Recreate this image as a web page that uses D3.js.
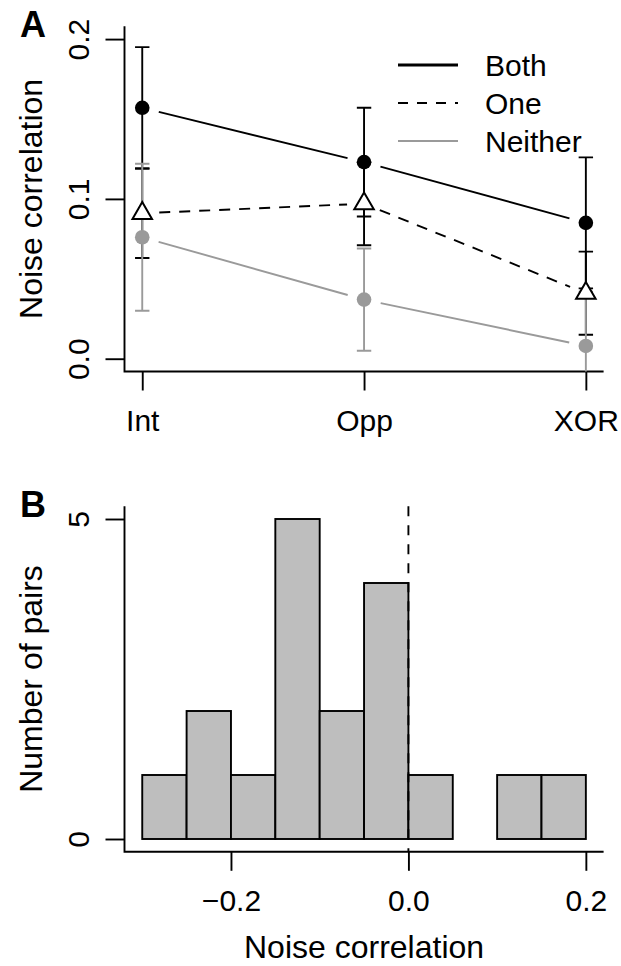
<!DOCTYPE html>
<html>
<head>
<meta charset="utf-8">
<script src="https://cdn.jsdelivr.net/npm/d3@7"></script>
<style>
  html, body { margin: 0; padding: 0; background: #fff; }
  svg { display: block; }
  text { font-family: "Liberation Sans", Arial, Helvetica, sans-serif; fill: #000; }
</style>
</head>
<body>
<svg id="fig" width="621" height="966"></svg>
<script>
// ---- Panel A: mean noise correlation by task, split by pair type ----
const conditions = ["Int", "Opp", "XOR"];
const bothMean    = [0.157, 0.123, 0.085];
const bothSE      = [0.038, 0.034, 0.041];
const oneMean     = [0.091, 0.097, 0.041];
const oneSE       = [0.028, 0.026, 0.026];
const neitherMean = [0.076, 0.037, 0.008];
const neitherSE   = [0.046, 0.032, 0.034];
const seriesNames = ["Both", "One", "Neither"];
const yTicksA = [0.0, 0.1, 0.2];

// ---- Panel B: histogram of noise correlations ----
const binEdges = [-0.30, -0.25, -0.20, -0.15, -0.10, -0.05, 0.00, 0.05, 0.10, 0.15, 0.20];
const binCounts = [1, 2, 1, 5, 2, 4, 1, 0, 1, 1];
const xTicksB = [-0.2, 0.0, 0.2];
const yTicksB = [0, 5];

const GREY = "#9a9a9a";
const FONT_TICK = 30;
const FONT_LAB = 32;
const FONT_LETTER = 36;

const svg = d3.select("#fig");

// shared horizontal extent of both plot regions
const plotLeft = 124.5, plotRight = 603.6;

// ================= Panel A =================
const aTop = 26.3, aBottom = 371.5;
const xA = d3.scaleLinear().domain([0.92, 3.08]).range([plotLeft, plotRight]);
const yA = d3.scaleLinear().domain([-0.008, 0.208]).range([aBottom, aTop]);
const xPos = i => xA(i + 1);

const gA = svg.append("g");

svg.append("defs").append("clipPath").attr("id", "clipA")
  .append("rect").attr("x", plotLeft).attr("y", aTop)
  .attr("width", plotRight - plotLeft).attr("height", aBottom - aTop);

// L-shaped frame
gA.append("path")
  .attr("d", `M${plotLeft},${aTop}V${aBottom}H${plotRight}`)
  .attr("fill", "none").attr("stroke", "#000").attr("stroke-width", 1.9);

// y axis
const axLA = gA.append("g").attr("transform", `translate(${plotLeft},0)`)
  .call(d3.axisLeft(yA).tickValues(yTicksA).tickSize(19).tickSizeOuter(0).tickFormat(d3.format(".1f")));
axLA.select(".domain").remove();
axLA.selectAll("line").attr("stroke", "#000").attr("stroke-width", 1.9);
axLA.selectAll("text")
  .attr("x", null).attr("dy", null)
  .attr("transform", "translate(-36,0) rotate(-90)")
  .attr("text-anchor", "middle")
  .style("font-size", FONT_TICK + "px");

// x axis
const axBA = gA.append("g").attr("transform", `translate(0,${aBottom})`)
  .call(d3.axisBottom(xA).tickValues([1, 2, 3]).tickSize(19).tickSizeOuter(0)
    .tickFormat((d, i) => conditions[i]));
axBA.select(".domain").remove();
axBA.selectAll("line").attr("stroke", "#000").attr("stroke-width", 1.9);
axBA.selectAll("text").attr("y", 59).attr("dy", null)
  .attr("text-anchor", "middle").style("font-size", FONT_TICK + "px");

// axis title
gA.append("text")
  .attr("transform", `translate(42,${(aTop + aBottom) / 2}) rotate(-90)`)
  .attr("text-anchor", "middle").style("font-size", FONT_LAB + "px")
  .text("Noise correlation");

// panel letter
gA.append("text").attr("x", 20).attr("y", 37)
  .style("font-size", FONT_LETTER + "px").style("font-weight", "bold").text("A");

const series = [
  { name: seriesNames[0], mean: bothMean, se: bothSE, color: "#000", dash: null, width: 1.9, shape: "circle" },
  { name: seriesNames[1], mean: oneMean, se: oneSE, color: "#000", dash: "11,9", width: 1.9, shape: "triangle" },
  { name: seriesNames[2], mean: neitherMean, se: neitherSE, color: GREY, dash: null, width: 1.9, shape: "circle" }
];

const inner = gA.append("g").attr("clip-path", "url(#clipA)");

// error bars
const capHalf = 7.2;
series.forEach(s => {
  const eb = inner.append("g").attr("stroke", s.color).attr("stroke-width", 1.9).attr("fill", "none");
  s.mean.forEach((m, i) => {
    const x = xPos(i), y1 = yA(m + s.se[i]), y0 = yA(m - s.se[i]);
    eb.append("line").attr("x1", x).attr("x2", x).attr("y1", y1).attr("y2", y0);
    eb.append("line").attr("x1", x - capHalf).attr("x2", x + capHalf).attr("y1", y1).attr("y2", y1);
    eb.append("line").attr("x1", x - capHalf).attr("x2", x + capHalf).attr("y1", y0).attr("y2", y0);
  });
});

// connecting lines with a gap around each point
const gap = 17;
series.forEach(s => {
  for (let i = 0; i < s.mean.length - 1; i++) {
    const x1 = xPos(i), y1 = yA(s.mean[i]);
    const x2 = xPos(i + 1), y2 = yA(s.mean[i + 1]);
    const len = Math.hypot(x2 - x1, y2 - y1);
    const ux = (x2 - x1) / len, uy = (y2 - y1) / len;
    const seg = inner.append("line")
      .attr("x1", x1 + ux * gap).attr("y1", y1 + uy * gap)
      .attr("x2", x2 - ux * gap).attr("y2", y2 - uy * gap)
      .attr("stroke", s.color).attr("stroke-width", s.width);
    if (s.dash) seg.attr("stroke-dasharray", s.dash);
  }
});

// points
const tri = d3.symbol().type(d3.symbolTriangle).size(165);
series.forEach(s => {
  s.mean.forEach((m, i) => {
    if (s.shape === "circle") {
      inner.append("circle").attr("cx", xPos(i)).attr("cy", yA(m)).attr("r", 7.3)
        .attr("fill", s.color);
    } else {
      inner.append("path").attr("d", tri)
        .attr("transform", `translate(${xPos(i)},${yA(m)})`)
        .attr("fill", "#fff").attr("stroke", "#000").attr("stroke-width", 2);
    }
  });
});

// legend
const legY = [65, 103, 141];
const legend = gA.append("g");
series.forEach((s, i) => {
  const ln = legend.append("line")
    .attr("x1", 398).attr("x2", 458).attr("y1", legY[i]).attr("y2", legY[i])
    .attr("stroke", s.color).attr("stroke-width", i === 0 ? 3.2 : 1.9);
  if (s.dash) ln.attr("stroke-dasharray", "10,9");
  legend.append("text").attr("x", 485).attr("y", legY[i] + 10.8)
    .style("font-size", FONT_TICK + "px").text(s.name);
});

// ================= Panel B =================
const bTop = 506.2, bBottom = 851.8;
const xB = d3.scaleLinear().domain([-0.32, 0.22]).range([plotLeft, plotRight]);
const yB = d3.scaleLinear().domain([-0.2, 5.2]).range([bBottom, bTop]);

const gB = svg.append("g");

gB.append("path")
  .attr("d", `M${plotLeft},${bTop}V${bBottom}H${plotRight}`)
  .attr("fill", "none").attr("stroke", "#000").attr("stroke-width", 1.9);

const axLB = gB.append("g").attr("transform", `translate(${plotLeft},0)`)
  .call(d3.axisLeft(yB).tickValues(yTicksB).tickSize(19).tickSizeOuter(0).tickFormat(d3.format("d")));
axLB.select(".domain").remove();
axLB.selectAll("line").attr("stroke", "#000").attr("stroke-width", 1.9);
axLB.selectAll("text")
  .attr("x", null).attr("dy", null)
  .attr("transform", "translate(-36,0) rotate(-90)")
  .attr("text-anchor", "middle")
  .style("font-size", FONT_TICK + "px");

const axBB = gB.append("g").attr("transform", `translate(0,${bBottom})`)
  .call(d3.axisBottom(xB).tickValues(xTicksB).tickSize(19).tickSizeOuter(0)
    .tickFormat(d => d3.format(".1f")(d).replace("-", "\u2212")));
axBB.select(".domain").remove();
axBB.selectAll("line").attr("stroke", "#000").attr("stroke-width", 1.9);
axBB.selectAll("text").attr("y", 59).attr("dy", null)
  .attr("text-anchor", "middle").style("font-size", FONT_TICK + "px");

gB.append("text")
  .attr("transform", `translate(42,${(bTop + bBottom) / 2}) rotate(-90)`)
  .attr("text-anchor", "middle").style("font-size", FONT_LAB + "px")
  .text("Number of pairs");

gB.append("text")
  .attr("x", (plotLeft + plotRight) / 2).attr("y", 958)
  .attr("text-anchor", "middle").style("font-size", FONT_LAB + "px")
  .text("Noise correlation");

gB.append("text").attr("x", 20).attr("y", 517)
  .style("font-size", FONT_LETTER + "px").style("font-weight", "bold").text("B");

// bars
const bins = binCounts.map((c, i) => ({ x0: binEdges[i], x1: binEdges[i + 1], count: c }));
gB.append("g").selectAll("rect").data(bins).join("rect")
  .attr("x", d => xB(d.x0)).attr("width", d => xB(d.x1) - xB(d.x0))
  .attr("y", d => yB(d.count)).attr("height", d => yB(0) - yB(d.count))
  .attr("fill", "#bebebe").attr("stroke", "#000").attr("stroke-width", 1.9);

// reference line at zero
gB.append("line")
  .attr("x1", xB(0)).attr("x2", xB(0)).attr("y1", bTop).attr("y2", bBottom)
  .attr("stroke", "#000").attr("stroke-width", 1.9).attr("stroke-dasharray", "10,9");
</script>
</body>
</html>
